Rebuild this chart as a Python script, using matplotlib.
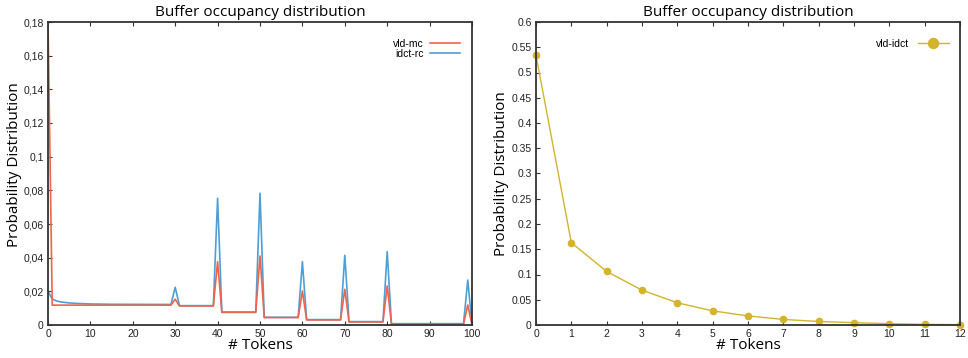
import numpy as np
import matplotlib
matplotlib.use("Agg")
import matplotlib.pyplot as plt
from matplotlib.ticker import FuncFormatter, MultipleLocator

# Buffer occupancy distributions (two panels)

# left panel: line vertices (# tokens, probability)
mc_tokens = [0, 1, 29, 30, 31, 39, 40, 41, 49, 50, 51, 59, 60, 61, 69, 70, 71, 79, 80, 81, 98, 99, 100]
mc_prob = [0.18, 0.0118, 0.0118, 0.0153, 0.0113, 0.0113, 0.0376, 0.0075, 0.0075, 0.041, 0.0044, 0.0044,
           0.0202, 0.003, 0.003, 0.0212, 0.0018, 0.0018, 0.0232, 0.0006, 0.0006, 0.0119, 0.0]

rc_tokens = [0, 1, 2, 3, 5, 7, 10, 15, 29, 30, 31, 39, 40, 41, 49, 50, 51, 59, 60, 61, 69, 70, 71, 79,
             80, 81, 98, 99, 100]
rc_prob = [0.020, 0.0154, 0.0143, 0.0137, 0.0131, 0.0128, 0.0125, 0.0123, 0.0122, 0.0224, 0.0115, 0.0115,
           0.0753, 0.0077, 0.0077, 0.0783, 0.0046, 0.0046, 0.0376, 0.0032, 0.0032, 0.0414, 0.002, 0.002,
           0.0436, 0.0008, 0.0008, 0.0267, 0.0]

# right panel
idct_tokens = list(range(13))
idct_prob = [0.534, 0.163, 0.106, 0.069, 0.044, 0.028, 0.018, 0.011, 0.007, 0.0046, 0.0026, 0.0013, 0.0007]

RED = "#f0644c"
BLUE = "#4e9fd6"
YELLOW = "#d4b42a"
FRAME = "#333333"
TICK_FONT = "Liberation Sans"
LABEL_FONT = "Open Sans"

fig = plt.figure(figsize=(9.68, 3.58), dpi=100)
ax1 = fig.add_axes([48 / 968, 33 / 358, 424 / 968, 303 / 358])
ax2 = fig.add_axes([536 / 968, 33 / 358, 424 / 968, 303 / 358])


def style_axes(ax):
    for sp in ax.spines.values():
        sp.set_color(FRAME)
        sp.set_linewidth(1.3)
    ax.tick_params(direction="in", length=3, width=0.8, color=FRAME, top=True, right=False,
                   labelsize=7.5, pad=3, labelcolor="#222222")
    for lbl in ax.get_xticklabels() + ax.get_yticklabels():
        lbl.set_fontfamily(TICK_FONT)
    ax.set_title("Buffer occupancy distribution", fontfamily=LABEL_FONT, fontsize=11, pad=4)
    ax.set_xlabel("# Tokens", fontfamily=LABEL_FONT, fontsize=11, labelpad=-1)
    ax.set_ylabel("Probability Distribution", fontfamily=LABEL_FONT, fontsize=11, labelpad=2)


# left panel
ax1.plot(rc_tokens, rc_prob, color=BLUE, lw=1.2, label="idct-rc")
ax1.plot(mc_tokens, mc_prob, color=RED, lw=1.2, label="vld-mc")
ax1.set_xlim(0, 100)
ax1.set_ylim(0, 0.18)
ax1.xaxis.set_major_locator(MultipleLocator(10))
ax1.yaxis.set_major_locator(MultipleLocator(0.02))
ax1.yaxis.set_major_formatter(FuncFormatter(lambda v, p: ("%g" % round(v, 4)).replace(".", ",")))
style_axes(ax1)
ax1.yaxis.set_label_coords(-0.062, 0.53)
h, l = ax1.get_legend_handles_labels()
leg1 = ax1.legend(h[::-1], l[::-1], loc="upper right", bbox_to_anchor=(0.972, 0.945), frameon=False,
                  markerfirst=False, handlelength=2.9, handletextpad=0.6, labelspacing=0.0,
                  borderpad=0, borderaxespad=0, prop={"family": TICK_FONT, "size": 7.5})

# right panel
ax2.plot(idct_tokens, idct_prob, color=YELLOW, lw=1.0, marker="o", ms=4.5, label="vld-idct",
         clip_on=False)
ax2.set_xlim(0, 12)
ax2.set_ylim(0, 0.6)
ax2.xaxis.set_major_locator(MultipleLocator(1))
ax2.yaxis.set_major_locator(MultipleLocator(0.05))
ax2.yaxis.set_major_formatter(FuncFormatter(lambda v, p: "%g" % round(v, 4)))
style_axes(ax2)
leg2 = ax2.legend(loc="upper right", bbox_to_anchor=(0.973, 0.945), frameon=False, markerfirst=False,
                  handlelength=2.9, handletextpad=0.9, borderpad=0, borderaxespad=0, markerscale=1.6,
                  prop={"family": TICK_FONT, "size": 7.5})

fig.savefig("out.png", dpi=100)
